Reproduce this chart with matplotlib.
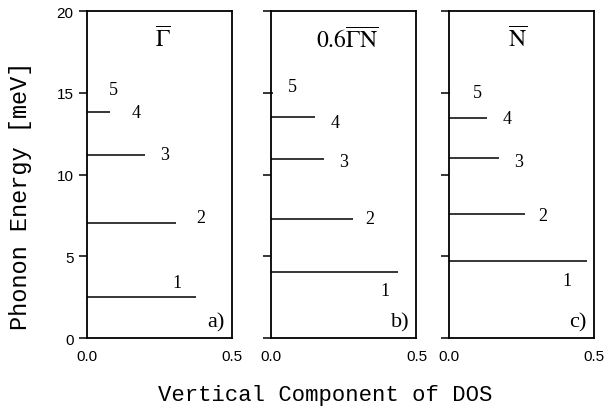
import numpy as np
import matplotlib
matplotlib.use("Agg")
from matplotlib import pyplot as plt

# phonon energies (meV) and vertical DOS component for the five modes
energy_a = [2.5, 7.05, 11.2, 13.8, 15.1]
dos_a = [0.375, 0.305, 0.20, 0.08, 0.005]
energy_b = [4.05, 7.3, 10.95, 13.5, 15.0]
dos_b = [0.435, 0.283, 0.183, 0.152, 0.005]
energy_c = [4.7, 7.6, 11.0, 13.45, 15.0]
dos_c = [0.477, 0.262, 0.172, 0.131, 0.005]
mode_labels = ['1', '2', '3', '4', '5']
titles = [r'$\overline{\Gamma}$', r'$0.6\overline{\Gamma\mathrm{N}}$', r'$\overline{\mathrm{N}}$']
panel_tags = ['a)', 'b)', 'c)']

# where the mode numbers sit (x, y) in each panel
label_pos = [
    [(0.31, 3.4), (0.39, 7.4), (0.267, 11.2), (0.168, 13.8), (0.092, 15.2)],
    [(0.39, 2.9), (0.34, 7.3), (0.25, 10.8), (0.22, 13.2), (0.072, 15.4)],
    [(0.407, 3.5), (0.324, 7.5), (0.24, 10.8), (0.20, 13.4), (0.097, 15.0)],
]
title_x = [0.26, 0.26, 0.238]

plt.rcParams['mathtext.fontset'] = 'stix'

fig = plt.figure(figsize=(6.08, 4.14), dpi=100, facecolor='white')
lefts = [0.143, 0.446, 0.738]
data = [(energy_a, dos_a), (energy_b, dos_b), (energy_c, dos_c)]

for i, (E, D) in enumerate(data):
    ax = fig.add_axes([lefts[i], 0.181, 0.239, 0.79])
    ax.hlines(E, 0, D, color='black', linewidth=1.1)
    ax.set_xlim(0, 0.5)
    ax.set_ylim(0, 20)
    for sp in ax.spines.values():
        sp.set_linewidth(1.3)
    ax.set_xticks([0.0, 0.5])
    ax.set_xticklabels(['0.0', '0.5'], family='Liberation Sans', fontsize=11)
    ax.tick_params(axis='x', length=0, pad=8)
    ax.set_yticks([0, 5, 10, 15, 20])
    ax.tick_params(axis='y', direction='out', length=6, width=1.1)
    if i == 0:
        ax.set_yticklabels(['0', '5', '10', '15', '20'], family='Liberation Sans', fontsize=11)
        ax.set_ylabel('Phonon Energy [meV]', family='Liberation Mono', fontsize=17)
        ax.yaxis.set_label_coords(-0.38, 0.437)
    else:
        ax.set_yticklabels([])
    for lab, (x, y) in zip(mode_labels, label_pos[i]):
        ax.text(x, y, lab, family='Liberation Serif', fontsize=13, ha='center', va='center')
    ax.text(title_x[i], 18.3, titles[i], fontsize=17, ha='center', va='center')
    ax.text(0.475, 1.0, panel_tags[i], family='Liberation Serif', fontsize=16, ha='right', va='center')

fig.text(0.535, 0.045, 'Vertical Component of DOS', family='Liberation Mono', fontsize=16,
         ha='center', va='center')

fig.savefig('out.png', dpi=100)
